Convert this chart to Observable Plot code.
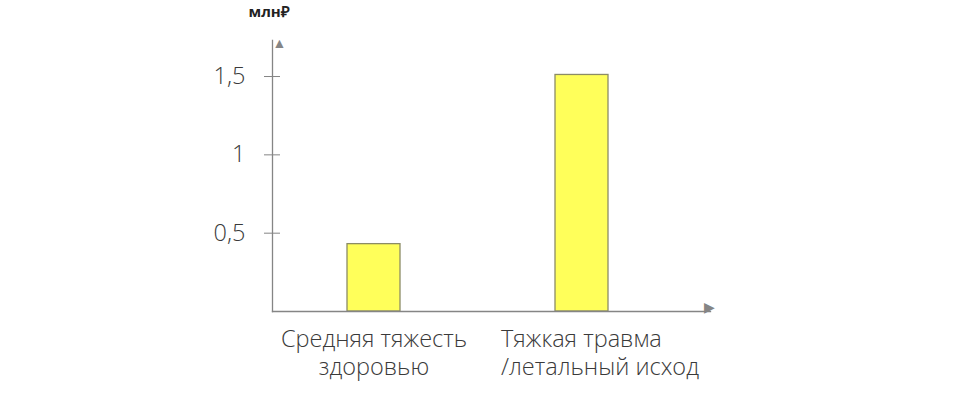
<!DOCTYPE html>
<html><head><meta charset="utf-8">
<script src="https://cdn.jsdelivr.net/npm/d3@7"></script>
<script src="https://cdn.jsdelivr.net/npm/@observablehq/plot@0.6"></script>
<style>body{margin:0;background:#fff}</style>
</head><body><div id="chart"></div>
<script>
const categories = ["Средняя тяжесть\nздоровью", "Тяжкая травма\n/летальный исход"];
const values = [0.43, 1.51];
const yTicks = [0.5, 1, 1.5];
const unitLabel = "млн₽";

const data = categories.map((c, i) => ({cat: c, value: values[i]}));
const fmt = d => String(d).replace(".", ",");
const font = "'Open Sans', sans-serif";
const axisColor = "#858585";
const textColor = "#3a3a3a";
const fs = 23.5;

const chart = Plot.plot({
  width: 957, height: 409,
  marginLeft: 272, marginRight: 247, marginTop: 40, marginBottom: 98,
  style: {fontFamily: font, background: "#fff"},
  x: {domain: categories, paddingInner: 0.745, paddingOuter: 0.425, align: 0.424, axis: null},
  y: {domain: [0, 1.73], axis: null},
  marks: [
    Plot.barY(data, {x: "cat", y: "value", fill: "#ffff5a", stroke: "#8c8c66", strokeWidth: 1.3}),
    Plot.frame({anchor: "left", stroke: axisColor, strokeWidth: 1.3}),
    Plot.frame({anchor: "bottom", stroke: axisColor, strokeWidth: 1.3}),
    Plot.axisY(yTicks, {anchor: "left", tickSize: 8, tickPadding: 19, tickFormat: fmt, stroke: axisColor,
      fontSize: fs, fontWeight: 300, fill: textColor, label: null}),
    Plot.axisY(yTicks, {anchor: "left", tickSize: 8, dx: 8, text: null, stroke: axisColor, label: null}),
    Plot.text(["▲"], {frameAnchor: "top-left", text: d => d, fill: axisColor, fontSize: 14, lineAnchor: "middle", dy: 3}),
    Plot.text(["▶"], {frameAnchor: "bottom-right", text: d => d, fill: axisColor, fontSize: 14, textAnchor: "middle", dx: -1}),
    Plot.text([categories[0]], {x: d => d, text: d => d, frameAnchor: "bottom", lineAnchor: "top", dy: 15,
      fontSize: fs, fontWeight: 300, fill: textColor, lineHeight: 1.2, textAnchor: "middle"}),
    Plot.text([categories[1]], {x: d => d, text: d => d, frameAnchor: "bottom", lineAnchor: "top", dy: 15, dx: -81,
      fontSize: fs, fontWeight: 300, fill: textColor, lineHeight: 1.2, textAnchor: "start"}),
    Plot.text([unitLabel], {frameAnchor: "top-left", text: d => d, dx: -24, dy: -28, lineAnchor: "middle",
      fontSize: 15, fontWeight: "bold", fill: "#222"})
  ]
});
document.getElementById("chart").appendChild(chart);
</script></body></html>
